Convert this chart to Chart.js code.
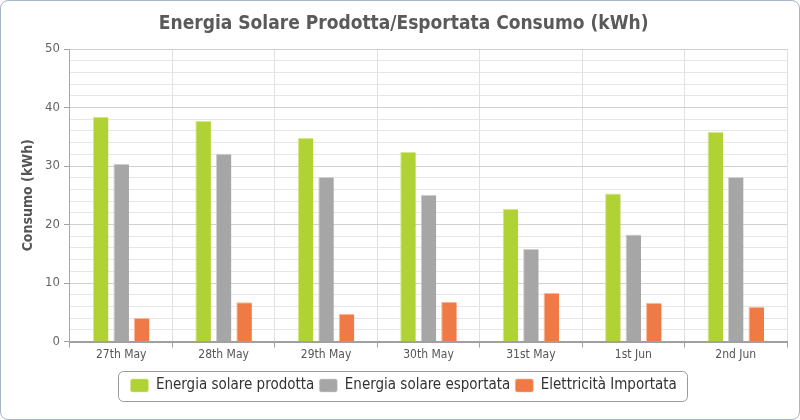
<!DOCTYPE html>
<html>
<head>
<meta charset="utf-8">
<script src="https://cdn.jsdelivr.net/npm/chart.js@4.4.1/dist/chart.umd.min.js"></script>
<style>
  html, body { margin: 0; padding: 0; background: #ffffff; }
  #wrap { position: absolute; left: 0; top: 0; width: 798px; height: 418px; border: 1px solid #a7b7c7; border-radius: 8px; overflow: hidden; background: #fff; }
  #c { position: absolute; left: -1px; top: -1px; }
</style>
</head>
<body>
<div id="wrap"><canvas id="c" width="800" height="420"></canvas></div>
<script>
const categories = ['27th May', '28th May', '29th May', '30th May', '31st May', '1st Jun', '2nd Jun'];
const prodotta = [38.4, 37.7, 34.8, 32.4, 22.7, 25.3, 35.8];
const esportata = [30.4, 32.1, 28.1, 25.1, 15.8, 18.3, 28.1];
const importata = [4.0, 6.7, 4.7, 6.8, 8.3, 6.6, 5.9];
const seriesNames = ['Energia solare prodotta', 'Energia solare esportata', 'Elettricità Importata'];
const yTicks = [0, 10, 20, 30, 40, 50];

const FONT = "'DejaVu Sans Condensed', 'DejaVu Sans', sans-serif";

const legendBox = {
  id: 'legendBox',
  afterDraw(chart) {
    const lg = chart.legend;
    if (!lg || !lg.legendHitBoxes || !lg.legendHitBoxes.length) return;
    const hb = lg.legendHitBoxes;
    let l = Infinity, r = -Infinity, t = Infinity, b = -Infinity;
    hb.forEach(h => { l = Math.min(l, h.left); r = Math.max(r, h.left + h.width); t = Math.min(t, h.top); b = Math.max(b, h.top + h.height); });
    const ctx = chart.ctx;
    ctx.save();
    ctx.strokeStyle = '#9a9a9a';
    ctx.lineWidth = 1;
    const cy = (t + b) / 2;
    const x = Math.round(l - 12) + 0.5, y = Math.round(cy - 15) + 0.5, w = Math.round(r - l + 23), h = 30;
    ctx.beginPath();
    ctx.roundRect(x, y, w, h, 5);
    ctx.stroke();
    ctx.restore();
  }
};

new Chart(document.getElementById('c'), {
  type: 'bar',
  data: {
    labels: categories,
    datasets: [
      { label: seriesNames[0], data: prodotta, backgroundColor: '#b1d234', borderColor: '#d6e88c', borderWidth: {left: 1, top: 1, right: 0, bottom: 0} },
      { label: seriesNames[1], data: esportata, backgroundColor: '#a6a6a6', borderColor: '#d0d0d0', borderWidth: {left: 1, top: 1, right: 0, bottom: 0} },
      { label: seriesNames[2], data: importata, backgroundColor: '#f07a45', borderColor: '#f7b896', borderWidth: {left: 1, top: 1, right: 0, bottom: 0} }
    ]
  },
  options: {
    responsive: false,
    animation: false,
    devicePixelRatio: 1,
    layout: { padding: { left: 20.3, right: 13, top: 0, bottom: 17 } },
    datasets: { bar: { categoryPercentage: 0.6, barPercentage: 0.76 } },
    plugins: {
      title: {
        display: true,
        text: 'Energia Solare Prodotta/Esportata Consumo (kWh)',
        color: '#5a5a5a',
        font: { family: FONT, size: 19, weight: 'bold' },
        padding: { top: 13, bottom: 13.2 }
      },
      legend: {
        position: 'bottom',
        labels: {
          color: '#333333',
          font: { family: FONT, size: 15 },
          boxWidth: 18,
          boxHeight: 13,
          padding: 5,
          useBorderRadius: true,
          borderRadius: 2
        }
      },
      tooltip: { enabled: false }
    },
    scales: {
      x: {
        afterFit(axis) { axis.height = 31.5; },
        grid: { offset: true, color: '#e0e0e0', tickColor: '#a0a0a0', tickLength: 6, drawTicks: true },
        border: { color: '#a0a0a0', width: 2 },
        ticks: { color: '#555555', font: { family: FONT, size: 12 }, padding: 0 }
      },
      y: {
        min: 0, max: 50,
        afterBuildTicks(axis) {
          const arr = [];
          for (let v = 0; v <= 50; v += 2) arr.push({ value: v });
          axis.ticks = arr;
        },
        grid: {
          color: ctx => (ctx.tick && ctx.tick.value % 10 === 0) ? '#d0d0d0' : '#e6e6e6',
          tickColor: ctx => (ctx.tick && ctx.tick.value % 10 === 0) ? '#a0a0a0' : 'rgba(0,0,0,0)',
          tickLength: 6
        },
        border: { color: '#a9a9a9', width: 1 },
        ticks: {
          color: '#666666',
          font: { family: FONT, size: 13 },
          padding: 4,
          autoSkip: false,
          callback: v => yTicks.includes(v) ? String(v) : ''
        },
        title: {
          display: true,
          text: 'Consumo (kWh)',
          color: '#555555',
          font: { family: FONT, size: 14, weight: 'bold' },
          padding: { top: 0, bottom: 4 }
        }
      }
    }
  },
  plugins: [legendBox]
});
</script>
</body>
</html>
